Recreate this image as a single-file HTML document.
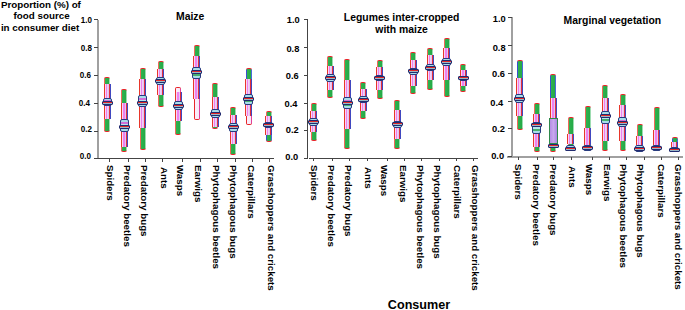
<!DOCTYPE html>
<html><head><meta charset="utf-8">
<style>
html,body{margin:0;padding:0;background:#fff;}
body{width:685px;height:310px;position:relative;overflow:hidden;font-family:"Liberation Sans",sans-serif;font-weight:bold;color:#000;}
div{position:absolute;box-sizing:border-box;}
.t{white-space:nowrap;line-height:1;}
.yl{font-size:9.3px;width:24px;text-align:right;}
.yl.yc{font-size:9.8px;}
.yc{transform-origin:100% 50%;transform:scaleX(0.82);}
.xl{font-size:9.75px;transform-origin:0 0;transform:rotate(90deg);}
.wk{width:6px;background:linear-gradient(to right,#ee6a5a 0,#ee6a5a 1px,#2fb24f 1px,#25a946 5px,#9ddcb0 5px);}
.ww{width:6px;background:linear-gradient(to right,#e8262a 0,#e8262a 1px,#fbeefb 1px,#f6e8f8 5px,#e0409a 5px);}
.wb{width:6px;background:linear-gradient(to right,#3a4fd0 0,#3a4fd0 1px,#2fb24f 1px,#25a946 5px,#4a6ad8 5px);}
.wt{border-radius:2px 2px 0 0;border-top:1px solid #e8262a;}
.wbm{border-radius:0 0 2px 2px;border-bottom:1px solid #e8262a;}
.iq{width:7px;background:linear-gradient(to right,#e8362a 0,#e8362a 1px,#f6d6f6 1px,#f6d6f6 2px,#ee80ee 2px,#ee80ee 3.5px,#f0d0f4 3.5px,#dcbcf2 5px,#e2303a 5px,#e2303a 6px,#4048c0 6px);}
.cb{width:9px;border:1px solid #283c80;border-radius:2px;background:linear-gradient(#a8dcea 0,#a8dcea 22%,#d070d8 22%,#d070d8 36%,#b8e4ee 36%,#b8e4ee 64%,#48b070 64%,#48b070 78%,#a8dcea 78%);}
.cb.big{background:linear-gradient(to right,#b48ee4,#c8a8ee 50%,#a888e0);border:1px solid #2e8a4a;border-radius:0;}
.md{width:11px;height:4px;background:linear-gradient(#9ab8c8 0,#9ab8c8 25%,#e02828 25%,#e02828 75%,#9ab8c8 75%);border:1px solid #222c70;border-radius:1px;}
.ax{background:#444;}
.axg{background:#a0a0a0;}
</style></head><body>
<div class="t" style="left:0.9px;top:-0.2px;font-size:9.8px;">Proportion (%) of</div>
<div class="t" style="left:13.6px;top:11.2px;font-size:9.8px;">food source</div>
<div class="t" style="left:0.9px;top:22.8px;font-size:9.8px;">in consumer diet</div>
<div class="t" style="left:140.2px;top:12px;width:100px;text-align:center;font-size:10.4px;">Maize</div>
<div class="t" style="left:331.6px;top:13px;width:140px;text-align:center;font-size:10.4px;">Legumes inter-cropped</div>
<div class="t" style="left:331.6px;top:25.4px;width:140px;text-align:center;font-size:10.4px;">with maize</div>
<div class="t" style="left:542.4px;top:15.8px;width:140px;text-align:center;font-size:10.4px;">Marginal vegetation</div>
<div class="t" style="left:369px;top:298.6px;width:100px;text-align:center;font-size:12.6px;">Consumer</div>
<div class="axg" style="left:96.9px;top:19.5px;width:2px;height:139.5px"></div>
<div class="ax" style="left:94px;top:158px;width:179.5px;height:1px"></div>
<div class="ax" style="left:93.9px;top:158px;width:4px;height:1px"></div>
<div class="t yl yc" style="left:66.8px;top:151.05px">0.0</div>
<div class="ax" style="left:93.9px;top:130.7px;width:4px;height:1px"></div>
<div class="t yl yc" style="left:67.6px;top:124.15px">0.2</div>
<div class="ax" style="left:93.9px;top:103.4px;width:4px;height:1px"></div>
<div class="t yl yc" style="left:66.2px;top:98.45px">0.4</div>
<div class="ax" style="left:93.9px;top:74.8px;width:4px;height:1px"></div>
<div class="t yl yc" style="left:67.3px;top:69.6px">0.6</div>
<div class="ax" style="left:93.9px;top:46.8px;width:4px;height:1px"></div>
<div class="t yl yc" style="left:68.2px;top:43.4px">0.8</div>
<div class="ax" style="left:93.9px;top:19px;width:4px;height:1px"></div>
<div class="t yl yc" style="left:68px;top:14.5px">1.0</div>
<div class="ax" style="left:108.9px;top:158.5px;width:1px;height:3px"></div>
<div class="t xl" style="left:114.9px;top:165.1px">Spiders</div>
<div class="ax" style="left:127.9px;top:158.5px;width:1px;height:3px"></div>
<div class="t xl" style="left:132.2px;top:165.1px">Predatory beetles</div>
<div class="ax" style="left:144.7px;top:158.5px;width:1px;height:3px"></div>
<div class="t xl" style="left:148.7px;top:165.1px">Predatory bugs</div>
<div class="ax" style="left:162.1px;top:158.5px;width:1px;height:3px"></div>
<div class="t xl" style="left:168.8px;top:166.6px">Ants</div>
<div class="ax" style="left:182.4px;top:158.5px;width:1px;height:3px"></div>
<div class="t xl" style="left:184.8px;top:165.1px">Wasps</div>
<div class="ax" style="left:199.9px;top:158.5px;width:1px;height:3px"></div>
<div class="t xl" style="left:203.2px;top:165.1px">Earwigs</div>
<div class="ax" style="left:217.2px;top:158.5px;width:1px;height:3px"></div>
<div class="t xl" style="left:220.8px;top:165.1px">Phytophagous beetles</div>
<div class="ax" style="left:234.7px;top:158.5px;width:1px;height:3px"></div>
<div class="t xl" style="left:237.7px;top:165.1px">Phytophagous bugs</div>
<div class="ax" style="left:251.8px;top:158.5px;width:1px;height:3px"></div>
<div class="t xl" style="left:255.9px;top:165.1px">Caterpillars</div>
<div class="ax" style="left:268.8px;top:158.5px;width:1px;height:3px"></div>
<div class="t xl" style="left:275.5px;top:165.1px">Grasshoppers and crickets</div>
<div class="ax" style="left:307px;top:19.5px;width:1px;height:139.4px"></div>
<div class="ax" style="left:309px;top:157.9px;width:169px;height:1px"></div>
<div class="ax" style="left:303.5px;top:157.9px;width:4px;height:1px"></div>
<div class="t yl" style="left:274.3px;top:152.8px">0.0</div>
<div class="ax" style="left:303.5px;top:130px;width:4px;height:1px"></div>
<div class="t yl" style="left:274.8px;top:125.8px">0.2</div>
<div class="ax" style="left:303.5px;top:103.3px;width:4px;height:1px"></div>
<div class="t yl" style="left:273.5px;top:100.3px">0.4</div>
<div class="ax" style="left:303.5px;top:75px;width:4px;height:1px"></div>
<div class="t yl" style="left:274.7px;top:71.55px">0.6</div>
<div class="ax" style="left:303.5px;top:47.1px;width:4px;height:1px"></div>
<div class="t yl" style="left:275.4px;top:45.15px">0.8</div>
<div class="ax" style="left:303.5px;top:19px;width:4px;height:1px"></div>
<div class="t yl" style="left:275.7px;top:16.25px">1.0</div>
<div class="ax" style="left:313.3px;top:158.4px;width:1px;height:3px"></div>
<div class="t xl" style="left:318.8px;top:165px">Spiders</div>
<div class="ax" style="left:331.9px;top:158.4px;width:1px;height:3px"></div>
<div class="t xl" style="left:336.2px;top:165px">Predatory beetles</div>
<div class="ax" style="left:348.7px;top:158.4px;width:1px;height:3px"></div>
<div class="t xl" style="left:352.6px;top:165px">Predatory bugs</div>
<div class="ax" style="left:366.5px;top:158.4px;width:1px;height:3px"></div>
<div class="t xl" style="left:372.5px;top:166.5px">Ants</div>
<div class="ax" style="left:387px;top:158.4px;width:1px;height:3px"></div>
<div class="t xl" style="left:389.1px;top:165px">Wasps</div>
<div class="ax" style="left:403.9px;top:158.4px;width:1px;height:3px"></div>
<div class="t xl" style="left:407.6px;top:165px">Earwigs</div>
<div class="ax" style="left:421.4px;top:158.4px;width:1px;height:3px"></div>
<div class="t xl" style="left:425.1px;top:165px">Phytophagous beetles</div>
<div class="ax" style="left:439.1px;top:158.4px;width:1px;height:3px"></div>
<div class="t xl" style="left:442.3px;top:165px">Phytophagous bugs</div>
<div class="ax" style="left:455.9px;top:158.4px;width:1px;height:3px"></div>
<div class="t xl" style="left:462.1px;top:165px">Caterpillars</div>
<div class="ax" style="left:473.3px;top:158.4px;width:1px;height:3px"></div>
<div class="t xl" style="left:480.2px;top:165px">Grasshoppers and crickets</div>
<div class="axg" style="left:511.25px;top:17.3px;width:1.5px;height:140.1px"></div>
<div class="axg" style="left:507px;top:156.15px;width:176px;height:1.5px"></div>
<div class="ax" style="left:508px;top:156.4px;width:4px;height:1px"></div>
<div class="t yl" style="left:480.1px;top:151.55px">0.0</div>
<div class="ax" style="left:508px;top:128.48px;width:4px;height:1px"></div>
<div class="t yl" style="left:481px;top:124.8px">0.2</div>
<div class="ax" style="left:508px;top:100.56px;width:4px;height:1px"></div>
<div class="t yl" style="left:479.3px;top:98.8px">0.4</div>
<div class="ax" style="left:508px;top:72.64px;width:4px;height:1px"></div>
<div class="t yl" style="left:481px;top:70px">0.6</div>
<div class="ax" style="left:508px;top:44.72px;width:4px;height:1px"></div>
<div class="t yl" style="left:481.6px;top:43.5px">0.8</div>
<div class="ax" style="left:508px;top:16.8px;width:4px;height:1px"></div>
<div class="t yl" style="left:481.7px;top:15px">1.0</div>
<div class="ax" style="left:518px;top:156.9px;width:1px;height:3px"></div>
<div class="t xl" style="left:522.6px;top:164.3px">Spiders</div>
<div class="ax" style="left:536.5px;top:156.9px;width:1px;height:3px"></div>
<div class="t xl" style="left:541.2px;top:164.3px">Predatory beetles</div>
<div class="ax" style="left:553.3px;top:156.9px;width:1px;height:3px"></div>
<div class="t xl" style="left:557.6px;top:164.3px">Predatory bugs</div>
<div class="ax" style="left:570.9px;top:156.9px;width:1px;height:3px"></div>
<div class="t xl" style="left:576.7px;top:165.8px">Ants</div>
<div class="ax" style="left:591.9px;top:156.9px;width:1px;height:3px"></div>
<div class="t xl" style="left:594.4px;top:164.3px">Wasps</div>
<div class="ax" style="left:609px;top:156.9px;width:1px;height:3px"></div>
<div class="t xl" style="left:611.8px;top:164.3px">Earwigs</div>
<div class="ax" style="left:625.8px;top:156.9px;width:1px;height:3px"></div>
<div class="t xl" style="left:627.9px;top:164.3px">Phytophagous beetles</div>
<div class="ax" style="left:643.9px;top:156.9px;width:1px;height:3px"></div>
<div class="t xl" style="left:645.1px;top:164.3px">Phytophagous bugs</div>
<div class="ax" style="left:660.7px;top:156.9px;width:1px;height:3px"></div>
<div class="t xl" style="left:665.6px;top:164.3px">Caterpillars</div>
<div class="ax" style="left:677.6px;top:156.9px;width:1px;height:3px"></div>
<div class="t xl" style="left:683.3px;top:164.3px">Grasshoppers and crickets</div>
<div class="wk wt" style="left:104.2px;top:77.3px;height:24.3px"></div>
<div class="wk wbm" style="left:104.2px;top:101.6px;height:30.2px"></div>
<div class="iq" style="left:103.7px;top:84px;height:35.2px"></div>
<div class="cb" style="left:102.7px;top:98.1px;height:8.4px"></div>
<div class="md" style="left:101.7px;top:100.6px"></div>
<div class="wk wt" style="left:121.3px;top:88.6px;height:36.2px"></div>
<div class="wk wbm" style="left:121.3px;top:124.8px;height:27.2px"></div>
<div class="iq" style="left:120.8px;top:102.9px;height:43.8px"></div>
<div class="cb" style="left:119.8px;top:118.6px;height:13.2px"></div>
<div class="md" style="left:118.8px;top:124.5px"></div>
<div class="wk wt" style="left:139.7px;top:67.5px;height:36.2px"></div>
<div class="wk wbm" style="left:139.7px;top:103.7px;height:46.5px"></div>
<div class="iq" style="left:139.2px;top:79px;height:49.4px"></div>
<div class="cb" style="left:138.2px;top:95px;height:12.3px"></div>
<div class="md" style="left:137.2px;top:100.6px"></div>
<div class="wk wt" style="left:157.8px;top:61px;height:21px"></div>
<div class="wk wbm" style="left:157.8px;top:82px;height:25.3px"></div>
<div class="iq" style="left:157.3px;top:69px;height:26px"></div>
<div class="cb" style="left:156.3px;top:76.5px;height:8.5px"></div>
<div class="md" style="left:155.3px;top:78.7px"></div>
<div class="ww wt" style="left:175.4px;top:87.3px;height:18.95px"></div>
<div class="wk wbm" style="left:175.4px;top:106.25px;height:28.65px"></div>
<div class="iq" style="left:174.9px;top:92px;height:28.5px"></div>
<div class="cb" style="left:173.9px;top:101.3px;height:8.7px"></div>
<div class="md" style="left:172.9px;top:103.5px"></div>
<div class="wk wt" style="left:193.5px;top:44.7px;height:32.9px"></div>
<div class="ww wbm" style="left:193.5px;top:77.6px;height:42.1px"></div>
<div class="iq" style="left:193px;top:55.7px;height:43.8px"></div>
<div class="cb" style="left:192px;top:66.7px;height:12.1px"></div>
<div class="md" style="left:191px;top:70px"></div>
<div class="wk wt" style="left:212.2px;top:83.3px;height:28.6px"></div>
<div class="wk wbm" style="left:212.2px;top:111.9px;height:17.2px"></div>
<div class="iq" style="left:211.7px;top:96.8px;height:30.2px"></div>
<div class="cb" style="left:210.7px;top:108.6px;height:9.2px"></div>
<div class="md" style="left:209.7px;top:111.9px"></div>
<div class="wk wt" style="left:230.3px;top:106.5px;height:23.15px"></div>
<div class="wk wbm" style="left:230.3px;top:129.65px;height:24.95px"></div>
<div class="iq" style="left:229.8px;top:115.2px;height:28.9px"></div>
<div class="cb" style="left:228.8px;top:123.1px;height:9.2px"></div>
<div class="md" style="left:227.8px;top:125px"></div>
<div class="wb wt" style="left:245.5px;top:68.1px;height:29.85px"></div>
<div class="ww wbm" style="left:245.5px;top:97.95px;height:26.95px"></div>
<div class="iq" style="left:245px;top:79.4px;height:37.1px"></div>
<div class="cb" style="left:244px;top:94.2px;height:10.5px"></div>
<div class="md" style="left:243px;top:96.7px"></div>
<div class="wk wt" style="left:265.8px;top:111.3px;height:14.2px"></div>
<div class="wb wbm" style="left:265.8px;top:125.5px;height:16.8px"></div>
<div class="iq" style="left:265.3px;top:116px;height:19px"></div>
<div class="cb" style="left:264.3px;top:121.8px;height:6.6px"></div>
<div class="md" style="left:263.3px;top:122.9px"></div>
<div class="wk wt" style="left:310.7px;top:103.4px;height:18.4px"></div>
<div class="wk wbm" style="left:310.7px;top:121.8px;height:18.9px"></div>
<div class="iq" style="left:310.2px;top:111.3px;height:21px"></div>
<div class="cb" style="left:309.2px;top:117.8px;height:7.9px"></div>
<div class="md" style="left:308.2px;top:119.8px"></div>
<div class="wk wt" style="left:327px;top:55.7px;height:22.55px"></div>
<div class="wk wbm" style="left:327px;top:78.25px;height:19.85px"></div>
<div class="iq" style="left:326.5px;top:66.2px;height:24.1px"></div>
<div class="cb" style="left:325.5px;top:74.1px;height:7.9px"></div>
<div class="md" style="left:324.5px;top:76.1px"></div>
<div class="wk wt" style="left:344px;top:59px;height:45.5px"></div>
<div class="wk wbm" style="left:344px;top:104.5px;height:44.8px"></div>
<div class="iq" style="left:343.5px;top:80px;height:49px"></div>
<div class="cb" style="left:342.5px;top:96.5px;height:12.3px"></div>
<div class="md" style="left:341.5px;top:101.3px"></div>
<div class="wk wt" style="left:360.3px;top:82px;height:18.15px"></div>
<div class="wk wbm" style="left:360.3px;top:100.15px;height:18.45px"></div>
<div class="iq" style="left:359.8px;top:89px;height:22.3px"></div>
<div class="cb" style="left:358.8px;top:95.5px;height:7.9px"></div>
<div class="md" style="left:357.8px;top:97.5px"></div>
<div class="wk wt" style="left:376.9px;top:59.7px;height:18.65px"></div>
<div class="wk wbm" style="left:376.9px;top:78.35px;height:21.15px"></div>
<div class="iq" style="left:376.4px;top:67px;height:22.7px"></div>
<div class="cb" style="left:375.4px;top:74.9px;height:6.3px"></div>
<div class="md" style="left:374.4px;top:76.1px"></div>
<div class="wk wt" style="left:394px;top:99.5px;height:24.95px"></div>
<div class="wk wbm" style="left:394px;top:124.45px;height:24.95px"></div>
<div class="iq" style="left:393.5px;top:110px;height:28.9px"></div>
<div class="cb" style="left:392.5px;top:120.5px;height:7.9px"></div>
<div class="md" style="left:391.5px;top:122.4px"></div>
<div class="wk wt" style="left:410.2px;top:51.8px;height:21.2px"></div>
<div class="wk wbm" style="left:410.2px;top:73px;height:21.2px"></div>
<div class="iq" style="left:409.7px;top:60px;height:26px"></div>
<div class="cb" style="left:408.7px;top:67.5px;height:7.9px"></div>
<div class="md" style="left:407.7px;top:69px"></div>
<div class="wk wt" style="left:427.1px;top:47.8px;height:19.7px"></div>
<div class="wk wbm" style="left:427.1px;top:67.5px;height:22.2px"></div>
<div class="iq" style="left:426.6px;top:55px;height:25px"></div>
<div class="cb" style="left:425.6px;top:63.6px;height:7.1px"></div>
<div class="md" style="left:424.6px;top:65.5px"></div>
<div class="wk wt" style="left:443.9px;top:38.1px;height:25.9px"></div>
<div class="wk wbm" style="left:443.9px;top:64px;height:32.8px"></div>
<div class="iq" style="left:443.4px;top:48px;height:32px"></div>
<div class="cb" style="left:442.4px;top:58.4px;height:7.8px"></div>
<div class="md" style="left:441.4px;top:60.3px"></div>
<div class="wk wt" style="left:460.4px;top:64.4px;height:13.6px"></div>
<div class="wk wbm" style="left:460.4px;top:78px;height:13.6px"></div>
<div class="iq" style="left:459.9px;top:70px;height:16px"></div>
<div class="cb" style="left:458.9px;top:76px;height:5.2px"></div>
<div class="md" style="left:457.9px;top:76.1px"></div>
<div class="wb wt" style="left:516.5px;top:60.2px;height:36.8px"></div>
<div class="wk wbm" style="left:516.5px;top:97px;height:33.2px"></div>
<div class="iq" style="left:516px;top:78px;height:38px"></div>
<div class="cb" style="left:515px;top:94.2px;height:9.2px"></div>
<div class="md" style="left:514px;top:96.7px"></div>
<div class="wk wt" style="left:533.5px;top:103.4px;height:26.9px"></div>
<div class="wk wbm" style="left:533.5px;top:130.3px;height:21.7px"></div>
<div class="iq" style="left:533px;top:113.9px;height:32.8px"></div>
<div class="cb" style="left:532px;top:121.8px;height:12.6px"></div>
<div class="md" style="left:531px;top:122.9px"></div>
<div class="wb wt" style="left:550.1px;top:74.1px;height:47.95px"></div>
<div class="wk wbm" style="left:550.1px;top:122.05px;height:29.95px"></div>
<div class="iq" style="left:549.6px;top:98.1px;height:47.9px"></div>
<div class="cb big" style="left:548.6px;top:117.8px;height:26.3px"></div>
<div class="md" style="left:547.6px;top:144px"></div>
<div class="wk wt" style="left:567.7px;top:116.5px;height:22.55px"></div>
<div class="wk wbm" style="left:567.7px;top:139.05px;height:12.15px"></div>
<div class="iq" style="left:567.2px;top:133.6px;height:10.9px"></div>
<div class="cb" style="left:566.2px;top:144.5px;height:6.7px"></div>
<div class="md" style="left:565.2px;top:146.6px"></div>
<div class="wk wt" style="left:584.8px;top:106px;height:30.6px"></div>
<div class="wk wbm" style="left:584.8px;top:136.6px;height:14.6px"></div>
<div class="iq" style="left:584.3px;top:128.4px;height:16.4px"></div>
<div class="cb" style="left:583.3px;top:144.8px;height:6.4px"></div>
<div class="md" style="left:582.3px;top:146.1px"></div>
<div class="wk wt" style="left:602.4px;top:85.2px;height:34.6px"></div>
<div class="wk wbm" style="left:602.4px;top:119.8px;height:30.9px"></div>
<div class="iq" style="left:601.9px;top:98.1px;height:43.4px"></div>
<div class="cb" style="left:600.9px;top:111.3px;height:13.2px"></div>
<div class="md" style="left:599.9px;top:114.3px"></div>
<div class="wk wt" style="left:619.7px;top:94.2px;height:28.9px"></div>
<div class="wk wbm" style="left:619.7px;top:123.1px;height:27.6px"></div>
<div class="iq" style="left:619.2px;top:104.7px;height:36.8px"></div>
<div class="cb" style="left:618.2px;top:116.5px;height:10.5px"></div>
<div class="md" style="left:617.2px;top:120.6px"></div>
<div class="wk wt" style="left:636.5px;top:123.9px;height:16.7px"></div>
<div class="wk wbm" style="left:636.5px;top:140.6px;height:11.4px"></div>
<div class="iq" style="left:636px;top:136.2px;height:8.8px"></div>
<div class="cb" style="left:635px;top:145px;height:7px"></div>
<div class="md" style="left:634px;top:146.8px"></div>
<div class="wk wt" style="left:653.9px;top:107.3px;height:29.95px"></div>
<div class="wk wbm" style="left:653.9px;top:137.25px;height:13.95px"></div>
<div class="iq" style="left:653.4px;top:129.7px;height:15.1px"></div>
<div class="cb" style="left:652.4px;top:144.8px;height:6.4px"></div>
<div class="md" style="left:651.4px;top:146.1px"></div>
<div class="wb wt" style="left:671.5px;top:137px;height:7.25px"></div>
<div class="wb wbm" style="left:671.5px;top:144.25px;height:7.25px"></div>
<div class="iq" style="left:671px;top:142px;height:4.5px"></div>
<div class="cb" style="left:670px;top:146.5px;height:5px"></div>
<div class="md" style="left:669px;top:148.2px"></div>
</body></html>
